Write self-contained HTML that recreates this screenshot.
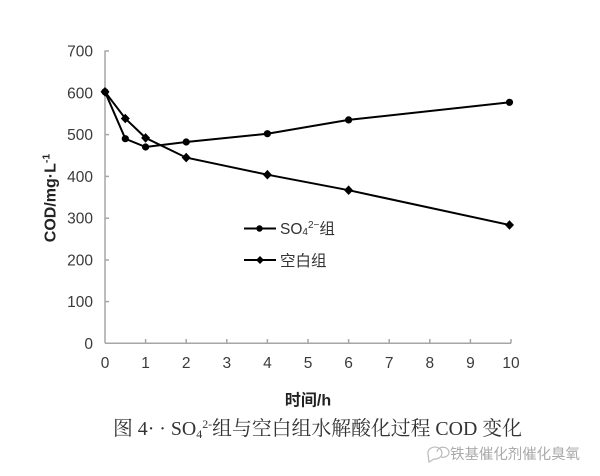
<!DOCTYPE html>
<html><head><meta charset="utf-8"><style>
html,body{margin:0;padding:0;background:#fff;}
svg{display:block;}
</style></head><body>
<svg width="600" height="476" viewBox="0 0 600 476" xmlns="http://www.w3.org/2000/svg">
<rect width="600" height="476" fill="#fff"/>
<!-- axes -->
<g stroke="#a6a6a6" stroke-width="1.5" fill="none">
<line x1="105" y1="50.5" x2="105" y2="343.3"/>
<line x1="105" y1="343.3" x2="511" y2="343.3"/>
<line x1="105" y1="51" x2="109" y2="51"/>
<line x1="105" y1="92.8" x2="109" y2="92.8"/>
<line x1="105" y1="134.6" x2="109" y2="134.6"/>
<line x1="105" y1="176.4" x2="109" y2="176.4"/>
<line x1="105" y1="218.2" x2="109" y2="218.2"/>
<line x1="105" y1="260" x2="109" y2="260"/>
<line x1="105" y1="301.6" x2="109" y2="301.6"/>
<line x1="145.6" y1="343.3" x2="145.6" y2="339"/>
<line x1="186.2" y1="343.3" x2="186.2" y2="339"/>
<line x1="226.8" y1="343.3" x2="226.8" y2="339"/>
<line x1="267.4" y1="343.3" x2="267.4" y2="339"/>
<line x1="308" y1="343.3" x2="308" y2="339"/>
<line x1="348.6" y1="343.3" x2="348.6" y2="339"/>
<line x1="389.2" y1="343.3" x2="389.2" y2="339"/>
<line x1="429.8" y1="343.3" x2="429.8" y2="339"/>
<line x1="470.4" y1="343.3" x2="470.4" y2="339"/>
<line x1="511" y1="343.3" x2="511" y2="339"/>
</g>
<!-- y labels -->
<g font-family="Liberation Sans, sans-serif" font-size="15.5" fill="#3a3a3a" text-anchor="end">
<text x="93" y="56.5">700</text>
<text x="93" y="98.3">600</text>
<text x="93" y="140.1">500</text>
<text x="93" y="181.9">400</text>
<text x="93" y="223.7">300</text>
<text x="93" y="265.5">200</text>
<text x="93" y="307.1">100</text>
<text x="93" y="348.8">0</text>
</g>
<!-- x labels -->
<g font-family="Liberation Sans, sans-serif" font-size="15.5" fill="#3a3a3a" text-anchor="middle">
<text x="105" y="368">0</text>
<text x="145.6" y="368">1</text>
<text x="186.2" y="368">2</text>
<text x="226.8" y="368">3</text>
<text x="267.4" y="368">4</text>
<text x="308" y="368">5</text>
<text x="348.6" y="368">6</text>
<text x="389.2" y="368">7</text>
<text x="429.8" y="368">8</text>
<text x="470.4" y="368">9</text>
<text x="511" y="368">10</text>
</g>
<!-- axis titles -->
<text x="308" y="405.5" font-family="Liberation Sans, 'Noto Sans CJK SC', sans-serif" font-size="16" font-weight="bold" fill="#222" text-anchor="middle">时间/h</text>
<text transform="translate(55.5,198) rotate(-90)" font-family="Liberation Sans, sans-serif" font-size="16" font-weight="bold" fill="#222" text-anchor="middle">COD/mg·L<tspan dy="-6" font-size="10.5">-1</tspan></text>
<!-- series: SO4 (circles) -->
<polyline fill="none" stroke="#000" stroke-width="2" points="105,91.8 125.3,138.7 145.6,147 186.2,142 267.4,133.7 348.6,119.9 509.5,102.3"/>
<g fill="#000">
<circle cx="105" cy="91.8" r="3.6"/>
<circle cx="125.3" cy="138.7" r="3.6"/>
<circle cx="145.6" cy="147" r="3.6"/>
<circle cx="186.2" cy="142" r="3.6"/>
<circle cx="267.4" cy="133.7" r="3.6"/>
<circle cx="348.6" cy="119.9" r="3.6"/>
<circle cx="509.5" cy="102.3" r="3.6"/>
</g>
<!-- series: blank (diamonds) -->
<polyline fill="none" stroke="#000" stroke-width="2" points="105,91.8 125.3,118.5 145.6,137.9 186.2,157.6 267.4,174.7 348.6,190.2 509.5,225"/>
<g fill="#000">
<polygon points="105,87 109.5,91.8 105,96.6 100.5,91.8"/>
<polygon points="125.3,113.7 129.8,118.5 125.3,123.3 120.8,118.5"/>
<polygon points="145.6,133.1 150.1,137.9 145.6,142.7 141.1,137.9"/>
<polygon points="186.2,152.8 190.7,157.6 186.2,162.4 181.7,157.6"/>
<polygon points="267.4,169.9 271.9,174.7 267.4,179.5 262.9,174.7"/>
<polygon points="348.6,185.4 353.1,190.2 348.6,195 344.1,190.2"/>
<polygon points="509.5,220.2 514,225 509.5,229.8 505,225"/>
</g>
<!-- legend -->
<line x1="244" y1="228.5" x2="276" y2="228.5" stroke="#000" stroke-width="2"/>
<circle cx="259.5" cy="228.5" r="3.2" fill="#000"/>
<line x1="244" y1="260" x2="276" y2="260" stroke="#000" stroke-width="2"/>
<polygon points="260,256 264,260 260,264 256,260" fill="#000"/>
<text x="280" y="234" font-family="Liberation Sans, 'Noto Sans CJK SC', sans-serif" font-size="15.5" fill="#333">SO<tspan font-size="10" dy="1">4</tspan><tspan font-size="10" dy="-7">2−</tspan><tspan dy="6">组</tspan></text>
<text x="280" y="266" font-family="Liberation Sans, 'Noto Sans CJK SC', sans-serif" font-size="15.5" fill="#333">空白组</text>
<!-- caption -->
<text x="113" y="435" font-family="Liberation Serif, 'Noto Serif CJK SC', serif" font-size="20" fill="#333" textLength="409" lengthAdjust="spacingAndGlyphs">图 4· · SO<tspan font-size="12" dy="3">4</tspan><tspan font-size="12" dy="-10">2-</tspan><tspan dy="7">组与空白组水解酸化过程 COD 变化</tspan></text>
<!-- watermark -->
<g fill="none" stroke="#bbb" stroke-width="1.2">
<path d="M428,454 a7,6 0 1,1 6,5 l-5,3 z"/>
<path d="M437,452 a6,5 0 1,1 4,5"/>
</g>
<text x="450" y="459" font-family="'Noto Sans CJK SC', sans-serif" font-size="14.5" fill="#aaa" textLength="130" lengthAdjust="spacingAndGlyphs">铁基催化剂催化臭氧</text>
</svg>
</body></html>
